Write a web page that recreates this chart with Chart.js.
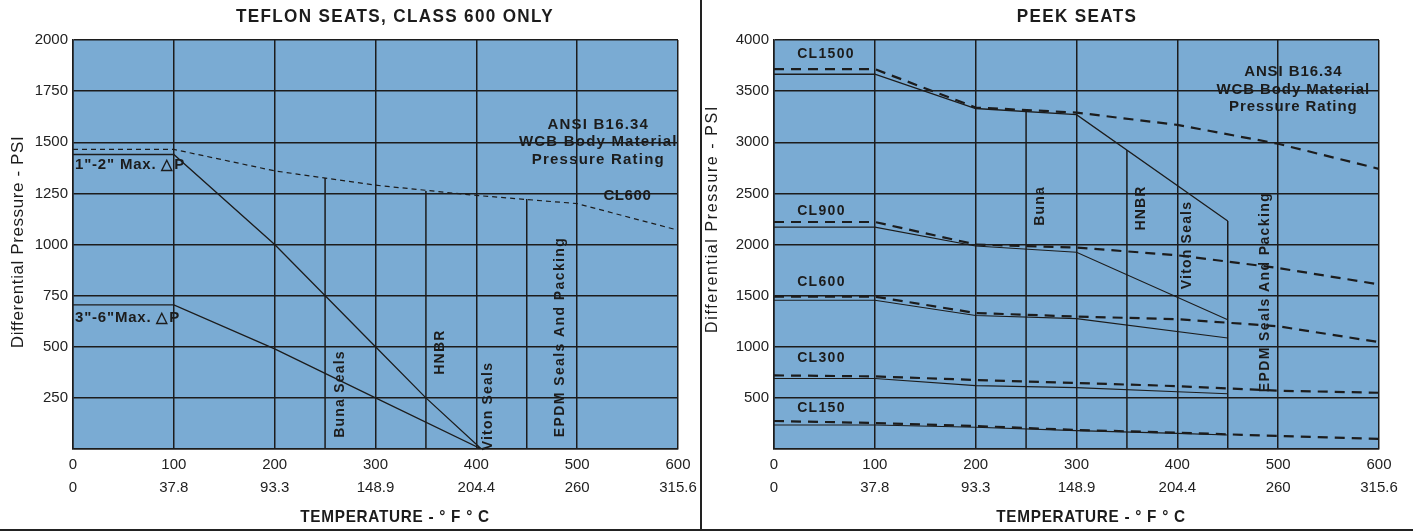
<!DOCTYPE html>
<html>
<head>
<meta charset="utf-8">
<script src="https://cdn.jsdelivr.net/npm/chart.js@4.4.1/dist/chart.umd.min.js"></script>
<style>
  body { margin: 0; background: #fff; }
  #page { position: relative; width: 1413px; height: 532px; overflow: hidden; }
  #left { position: absolute; left: 0; top: 0; }
  #right { position: absolute; left: 703px; top: 0; }
  #sep { position: absolute; left: 700px; top: 0; width: 2px; height: 531px; background: #222; }
  #base { position: absolute; left: 0; top: 529px; width: 1413px; height: 2px; background: #222; }
</style>
</head>
<body>
<div id="page">
  <canvas id="left" width="700" height="532"></canvas>
  <div id="sep"></div>
  <canvas id="right" width="710" height="532"></canvas>
  <div id="base"></div>
</div>
<script>
// temperature axis, deg F with the deg C equivalents underneath
const tempF = [0, 100, 200, 300, 400, 500, 600];
const tempC = ['0', '37.8', '93.3', '148.9', '204.4', '260', '315.6'];

// Teflon seats (class 600 only)
const teflonCl600T = [0, 100, 200, 300, 400, 500, 600];
const teflonCl600P = [1465, 1465, 1360, 1290, 1240, 1200, 1070];
const teflonSmallT = [0, 100, 200, 300, 350, 405];
const teflonSmallP = [1440, 1440, 1000, 500, 250, 0];
const teflonLargeT = [0, 100, 200, 300, 405];
const teflonLargeP = [705, 705, 490, 250, 0];
// seal limit lines: temperature, top pressure
const teflonSealT = [250, 350, 450];
const teflonSealTop = [1325, 1262, 1222];

// Peek seats, body rating (dashed) and seat rating (solid)
const peekBodyT = [0, 100, 200, 300, 400, 500, 600];
const peekCl1500Body = [3715, 3715, 3340, 3290, 3170, 2985, 2740];
const peekCl900Body = [2220, 2220, 2000, 1970, 1895, 1770, 1610];
const peekCl600Body = [1490, 1490, 1330, 1295, 1270, 1200, 1045];
const peekCl300Body = [720, 710, 675, 645, 615, 570, 550];
const peekCl150Body = [274, 254, 225, 186, 160, 127, 98];

const peekSeatT = [0, 100, 200, 300, 450];
const peekCl1500Seat = [3665, 3665, 3330, 3270, 2230];
const peekCl900Seat = [2170, 2170, 1985, 1925, 1265];
const peekCl600Seat = [1455, 1455, 1305, 1275, 1085];
const peekLowT = [0, 100, 200, 300, 400, 450];
const peekCl300Seat = [690, 690, 620, 600, 560, 540];
const peekCl150Seat = [235, 235, 212, 180, 153, 137];
const peekSealT = [250, 350, 450];
const peekSealTop = [3300, 2925, 2230];

const INK = '#1c1c1c';
const NARROW = "'Liberation Sans Narrow', 'Liberation Sans', Arial, sans-serif";
const SANS = "'Liberation Sans', Arial, sans-serif";

const pts = (xs, ys) => xs.map((x, i) => ({ x, y: ys[i] }));

function line(xs, ys, dashed, width, dash) {
    return {
        data: pts(xs, ys),
        showLine: true,
        borderColor: INK,
        borderWidth: width,
        borderDash: dashed ? dash : [],
        pointRadius: 0,
        tension: 0,
        fill: false,
    };
}

function sealLines(ts, tops) {
    return ts.map((t, i) => line([t, t], [tops[i], 0], false, 1.5));
}

const decor = {
    id: 'decor',
    beforeDraw(chart, args, o) {
        const { ctx, chartArea: a } = chart;
        ctx.save();
        ctx.fillStyle = o.bg;
        ctx.fillRect(a.left, a.top, a.right - a.left, a.bottom - a.top);
        ctx.restore();
    },
    afterDatasetsDraw(chart, args, o) {
        const { ctx } = chart;
        const xs = chart.scales.x, ys = chart.scales.y;
        ctx.save();
        ctx.fillStyle = INK;
        o.notes.forEach(n => {
            const px = n.abs ? n.x : xs.getPixelForValue(n.x);
            const py = n.abs ? n.y : ys.getPixelForValue(n.y);
            ctx.save();
            ctx.font = n.font;
            ctx.letterSpacing = (n.ls || 0) + 'px';
            ctx.textAlign = n.align || 'center';
            ctx.textBaseline = 'middle';
            ctx.translate(px, py);
            if (n.rot) ctx.rotate(n.rot);
            if (n.sx) ctx.scale(n.sx, 1);
            ctx.fillText(n.text, 0, 0);
            ctx.restore();
        });
        ctx.restore();
    }
};

function makeChart(el, datasets, yMax, yStep, tickFont, padRight, yWidth, notes) {
    return new Chart(el, {
        type: 'scatter',
        data: { datasets },
        options: {
            responsive: false,
            animation: false,
            events: [],
            layout: { padding: { left: 0, right: padRight, top: 40, bottom: 0 } },
            plugins: {
                legend: { display: false },
                tooltip: { enabled: false },
                decor: { bg: '#7aabd3', notes }
            },
            scales: {
                x: {
                    type: 'linear',
                    min: 0, max: 600,
                    afterFit(s) { s.height = 83; s.paddingLeft = 0; s.paddingRight = 0; },
                    afterBuildTicks(s) { s.ticks = tempF.map(v => ({ value: v })); },
                    ticks: {
                        color: '#222',
                        font: { family: tickFont, size: 15, lineHeight: 1.5 },
                        padding: 5,
                        maxRotation: 0,
                        autoSkip: false,
                        callback: (v) => [String(v), tempC[tempF.indexOf(v)]]
                    },
                    grid: { color: INK, lineWidth: 1.5, drawTicks: false },
                    border: { color: INK, width: 1.5 }
                },
                y: {
                    min: 0, max: yMax,
                    afterFit(s) { s.width = yWidth; },
                    ticks: {
                        stepSize: yStep,
                        color: '#222',
                        font: { family: tickFont, size: 15 },
                        padding: 5,
                        callback: (v) => v === 0 ? '' : String(v)
                    },
                    grid: { color: INK, lineWidth: 1.5, drawTicks: false },
                    border: { color: INK, width: 1.5 }
                }
            }
        },
        plugins: [decor]
    });
}

const R = -Math.PI / 2;
const nb = (s) => `bold ${s}px ${NARROW}`;
const sb = (s) => `bold ${s}px ${SANS}`;

makeChart(document.getElementById('left'), [
    line(teflonCl600T, teflonCl600P, true, 1.2, [5, 4]),
    line(teflonSmallT, teflonSmallP, false, 1.3),
    line(teflonLargeT, teflonLargeP, false, 1.3),
    ...sealLines(teflonSealT, teflonSealTop),
], 2000, 250, NARROW, 22, 73, [
    { text: 'TEFLON SEATS, CLASS 600 ONLY', x: 395, y: 17, abs: true, font: nb(19), ls: 1.5, sx: 0.9 },
    { text: 'Differential Pressure - PSI', x: 18, y: 242, abs: true, rot: R, font: `17px ${SANS}`, ls: 0.6 },
    { text: 'TEMPERATURE - \u00b0 F \u00b0 C', x: 395, y: 517, abs: true, font: nb(17), ls: 0.8, sx: 0.9 },
    { text: '1"-2" Max. \u25b3P', x: 2, y: 1390, align: 'left', font: nb(15), ls: 0.8 },
    { text: '3"-6"Max. \u25b3P', x: 2, y: 641, align: 'left', font: nb(15), ls: 0.8 },
    { text: 'CL600', x: 526, y: 1237, align: 'left', font: nb(15), ls: 0.6 },
    { text: 'ANSI B16.34', x: 521, y: 1584, font: nb(15), ls: 1.2 },
    { text: 'WCB Body Material', x: 521, y: 1501, font: nb(15), ls: 1.2 },
    { text: 'Pressure Rating', x: 521, y: 1413, font: nb(15), ls: 1.2 },
    { text: 'Buna Seals', x: 265, y: 269, rot: R, font: sb(14), ls: 1.2 },
    { text: 'HNBR', x: 364, y: 474, rot: R, font: sb(14), ls: 1.2 },
    { text: 'Viton Seals', x: 412, y: 210, rot: R, font: sb(14), ls: 1.2 },
    { text: 'EPDM Seals And Packing', x: 483, y: 548, rot: R, font: sb(14), ls: 1.4 },
]);

makeChart(document.getElementById('right'), [
    line(peekBodyT, peekCl1500Body, true, 2.2, [10, 7]),
    line(peekBodyT, peekCl900Body, true, 2.2, [10, 7]),
    line(peekBodyT, peekCl600Body, true, 2.2, [10, 7]),
    line(peekBodyT, peekCl300Body, true, 2.2, [10, 7]),
    line(peekBodyT, peekCl150Body, true, 2.2, [10, 7]),
    line(peekSeatT, peekCl1500Seat, false, 1.3),
    line(peekSeatT, peekCl900Seat, false, 1.1),
    line(peekSeatT, peekCl600Seat, false, 1.1),
    line(peekLowT, peekCl300Seat, false, 1.1),
    line(peekLowT, peekCl150Seat, false, 1.1),
    ...sealLines(peekSealT, peekSealTop),
], 4000, 500, SANS, 34, 71, [
    { text: 'PEEK SEATS', x: 374, y: 17, abs: true, font: nb(19), ls: 1.5, sx: 0.9 },
    { text: 'Differential Pressure - PSI', x: 10, y: 219, abs: true, rot: R, font: `16px ${SANS}`, ls: 1.6 },
    { text: 'TEMPERATURE - \u00b0 F \u00b0 C', x: 388, y: 517, abs: true, font: nb(17), ls: 0.8, sx: 0.9 },
    { text: 'CL1500', x: 23, y: 3863, align: 'left', font: sb(14), ls: 1.3 },
    { text: 'CL900', x: 23, y: 2328, align: 'left', font: sb(14), ls: 1.3 },
    { text: 'CL600', x: 23, y: 1633, align: 'left', font: sb(14), ls: 1.3 },
    { text: 'CL300', x: 23, y: 890, align: 'left', font: sb(14), ls: 1.3 },
    { text: 'CL150', x: 23, y: 401, align: 'left', font: sb(14), ls: 1.3 },
    { text: 'ANSI B16.34', x: 515, y: 3687, font: sb(15), ls: 0.9 },
    { text: 'WCB Body Material', x: 515, y: 3511, font: sb(15), ls: 0.9 },
    { text: 'Pressure Rating', x: 515, y: 3345, font: sb(15), ls: 0.9 },
    { text: 'Buna', x: 264, y: 2377, rot: R, font: sb(14), ls: 1.2 },
    { text: 'HNBR', x: 364, y: 2357, rot: R, font: sb(14), ls: 1.2 },
    { text: 'Viton Seals', x: 410, y: 1995, rot: R, font: sb(14), ls: 1.2 },
    { text: 'EPDM Seals And Packing', x: 487, y: 1535, rot: R, font: sb(14), ls: 1.4 },
]);
</script>
</body>
</html>
